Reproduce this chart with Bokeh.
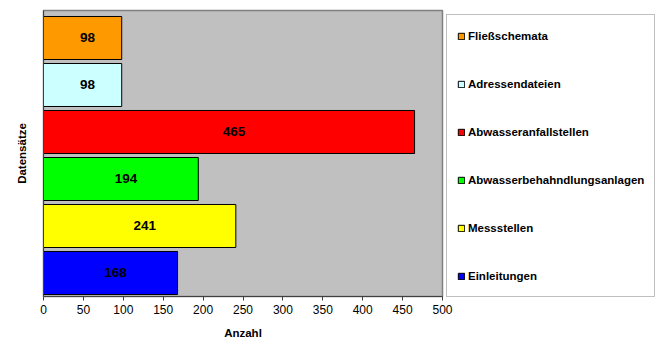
from bokeh.plotting import figure
from bokeh.models import ColumnDataSource, Range1d, Legend, LegendItem, FixedTicker
from bokeh.core.properties import value
from bokeh.embed import file_html
from bokeh.resources import INLINE

# Data (top to bottom as in the chart)
categories = ["Fließschemata", "Adressendateien", "Abwasseranfallstellen",
              "Abwasserbehahndlungsanlagen", "Messstellen", "Einleitungen"]
counts = [98, 98, 465, 194, 241, 168]
colors = ["#FF9900", "#CCFFFF", "#FF0000", "#00FF00", "#FFFF00", "#0000FF"]
x_ticks = [0, 50, 100, 150, 200, 250, 300, 350, 400, 450, 500]

n = len(categories)
ypos = [n - 1 - i for i in range(n)]
src = ColumnDataSource(dict(cat=categories, count=counts, color=colors, y=ypos,
                            mid=[c / 2 for c in counts], lbl=[str(c) for c in counts]))

FONT = "Liberation Sans"

p = figure(frame_width=399, frame_height=286, output_backend="svg", toolbar_location=None,
           x_range=Range1d(0, 500), y_range=Range1d(-0.5, n - 0.415),
           min_border_left=43, min_border_top=10, min_border_right=4, min_border_bottom=10,
           background_fill_color="#C0C0C0", border_fill_color="white")
p.outline_line_color = "#808080"
p.outline_line_width = 1.5
p.grid.visible = False

r = p.hbar(y="y", right="count", left=0, height=0.915, source=src,
           fill_color="color", line_color="#000000", line_width=1)

p.text(x="mid", y="y", text="lbl", source=src, text_align="center", text_baseline="middle",
       text_font=value(FONT), text_font_style="bold", text_font_size="13.5px",
       text_color="black", x_offset=5)

# x axis
p.xaxis.ticker = FixedTicker(ticks=x_ticks)
p.xaxis.axis_label = "Anzahl"
p.xaxis.axis_label_text_font = FONT
p.xaxis.axis_label_text_font_style = "bold"
p.xaxis.axis_label_text_font_size = "11.5px"
p.xaxis.axis_label_text_color = "black"
p.xaxis.axis_label_standoff = 10
p.xaxis.major_label_text_font = FONT
p.xaxis.major_label_text_font_size = "12px"
p.xaxis.major_label_text_color = "black"
p.xaxis.major_tick_in = 0
p.xaxis.major_tick_out = 4
p.xaxis.minor_tick_out = 0
p.xaxis.minor_tick_in = 0
p.xaxis.axis_line_color = "#404040"
p.xaxis.major_tick_line_color = "#404040"
p.xaxis.major_label_standoff = 4

# y axis
p.yaxis.ticker = FixedTicker(ticks=[])
p.yaxis.major_label_text_font_size = "0px"
p.yaxis.major_tick_out = 0
p.yaxis.minor_tick_out = 0
p.yaxis.axis_label = "Datensätze"
p.yaxis.axis_label_text_font = FONT
p.yaxis.axis_label_text_font_style = "bold"
p.yaxis.axis_label_text_font_size = "11.5px"
p.yaxis.axis_label_text_color = "black"
p.yaxis.axis_label_standoff = 16
p.yaxis.axis_line_color = "#404040"

items = [LegendItem(label=categories[i], renderers=[r], index=i) for i in range(n)]
legend = Legend(items=items, location="top_left", orientation="vertical",
                label_text_font=FONT, label_text_font_style="bold", label_text_font_size="11.5px",
                label_text_color="black",
                label_height=21, glyph_height=8, glyph_width=8, spacing=27,
                padding=10, margin=4, label_standoff=3,
                border_line_color="#808080", border_line_width=1,
                background_fill_color="white", background_fill_alpha=1)
p.add_layout(legend, "right")

open("out.html", "w").write(file_html(p, INLINE))
